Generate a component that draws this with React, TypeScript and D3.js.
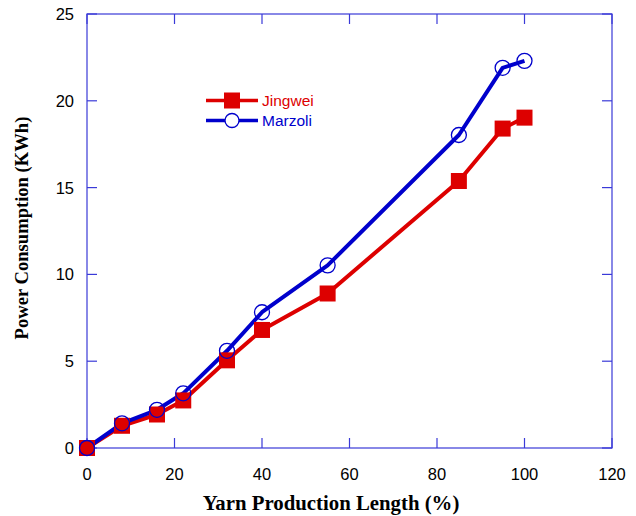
import React from "react";
import * as d3 from "d3";

const xValues = [0, 8, 16, 22, 32, 40, 55, 85, 95, 100];
const jingwei = [0, 1.28, 1.93, 2.74, 5.05, 6.8, 8.9, 15.38, 18.4, 19.03];
const marzoli = [0, 1.42, 2.2, 3.15, 5.6, 7.82, 10.52, 18.03, 21.9, 22.3];
const xTicks = [0, 20, 40, 60, 80, 100, 120];
const yTicks = [0, 5, 10, 15, 20, 25];
const seriesNames = ["Jingwei", "Marzoli"];
const xTitle = "Yarn Production Length (%)";
const yTitle = "Power Consumption (KWh)";

const W = 636;
const H = 516;
const M = { left: 87, right: 612, top: 14, bottom: 448 };
const RED = "#dd0000";
const BLUE = "#0000cc";
const AXIS = "#3a3ad8";

export default function App() {
  const x = d3.scaleLinear().domain([0, 120]).range([M.left, M.right]);
  const y = d3.scaleLinear().domain([0, 25]).range([M.bottom, M.top]);
  const line = d3
    .line<[number, number]>()
    .x((d) => x(d[0]))
    .y((d) => y(d[1]));
  const jData: [number, number][] = xValues.map((v, i) => [v, jingwei[i]]);
  const mData: [number, number][] = xValues.map((v, i) => [v, marzoli[i]]);
  const tickLen = 10;
  const sq = 16;
  const cr = 7.5;

  return (
    <svg
      width={W}
      height={H}
      style={{ position: "absolute", left: 0, top: 0, background: "#fff" }}
    >
      {/* frame */}
      <rect
        x={M.left}
        y={M.top}
        width={M.right - M.left}
        height={M.bottom - M.top}
        fill="none"
        stroke={AXIS}
        strokeWidth={1.2}
      />
      {xTicks.map((t) => (
        <g key={"xt" + t}>
          <line x1={x(t)} x2={x(t)} y1={M.bottom} y2={M.bottom - tickLen} stroke={AXIS} strokeWidth={1.2} />
          <line x1={x(t)} x2={x(t)} y1={M.top} y2={M.top + tickLen} stroke={AXIS} strokeWidth={1.2} />
          <text
            x={x(t)}
            y={M.bottom + 32}
            textAnchor="middle"
            fontFamily="Liberation Sans, Arial, sans-serif"
            fontSize={16.5}
            fill="#000"
          >
            {t}
          </text>
        </g>
      ))}
      {yTicks.map((t) => (
        <g key={"yt" + t}>
          <line x1={M.left} x2={M.left + tickLen} y1={y(t)} y2={y(t)} stroke={AXIS} strokeWidth={1.2} />
          <line x1={M.right} x2={M.right - tickLen} y1={y(t)} y2={y(t)} stroke={AXIS} strokeWidth={1.2} />
          <text
            x={74}
            y={y(t) + 6}
            textAnchor="end"
            fontFamily="Liberation Sans, Arial, sans-serif"
            fontSize={16.5}
            fill="#000"
          >
            {t}
          </text>
        </g>
      ))}
      {/* axis titles */}
      <text
        x={331}
        y={510}
        textAnchor="middle"
        fontFamily="Liberation Serif, Times New Roman, serif"
        fontWeight="bold"
        fontSize={20.8}
        fill="#000"
      >
        {xTitle}
      </text>
      <text
        transform={`translate(28, 228) rotate(-90)`}
        textAnchor="middle"
        fontFamily="Liberation Serif, Times New Roman, serif"
        fontWeight="bold"
        fontSize={18.6}
        fill="#000"
      >
        {yTitle}
      </text>

      {/* series */}
      <path d={line(jData) || ""} fill="none" stroke={RED} strokeWidth={4} strokeLinejoin="round" />
      <path d={line(mData) || ""} fill="none" stroke={BLUE} strokeWidth={4} strokeLinejoin="round" />
      {jData.map((d, i) => (
        <rect key={"s" + i} x={x(d[0]) - sq / 2} y={y(d[1]) - sq / 2} width={sq} height={sq} fill={RED} />
      ))}
      {mData.map((d, i) => (
        <circle key={"c" + i} cx={x(d[0])} cy={y(d[1])} r={cr} fill="none" stroke={BLUE} strokeWidth={1.3} />
      ))}

      {/* legend */}
      <g>
        <line x1={206} x2={258} y1={100.5} y2={100.5} stroke={RED} strokeWidth={3.3} />
        <rect x={232 - 8} y={100.5 - 8} width={16} height={16} fill={RED} />
        <text x={262} y={106} fontFamily="Liberation Sans, Arial, sans-serif" fontSize={15.5} fill={RED}>
          {seriesNames[0]}
        </text>
        <line x1={206} x2={258} y1={120.5} y2={120.5} stroke={BLUE} strokeWidth={3.3} />
        <circle cx={232} cy={120.5} r={7} fill="#fff" stroke={BLUE} strokeWidth={1.3} />
        <text x={262} y={126} fontFamily="Liberation Sans, Arial, sans-serif" fontSize={15.5} fill={BLUE}>
          {seriesNames[1]}
        </text>
      </g>
    </svg>
  );
}
